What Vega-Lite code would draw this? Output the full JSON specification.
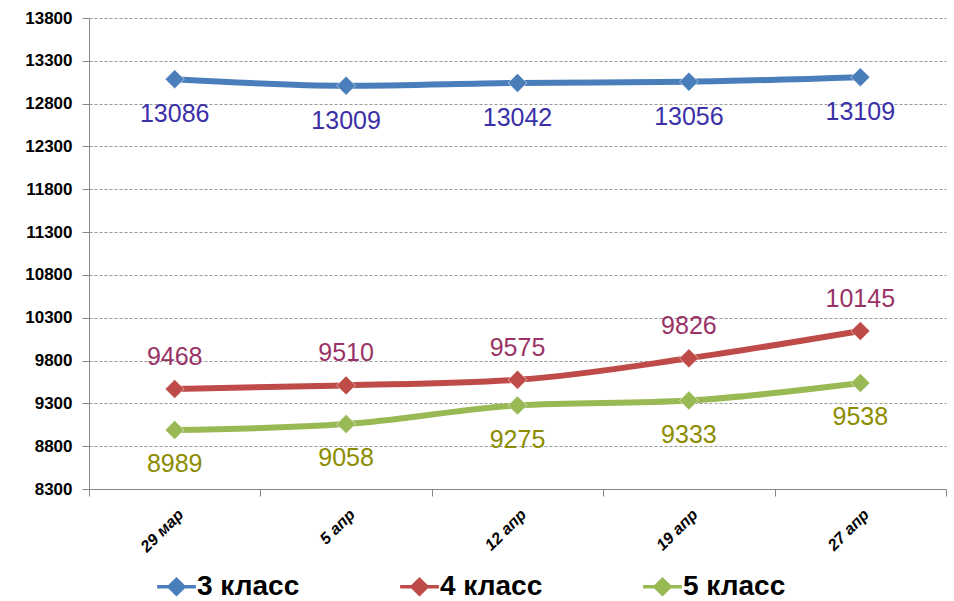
{
  "$schema": "https://vega.github.io/schema/vega-lite/v6.json",
  "width": 857,
  "height": 471,
  "autosize": {"type": "none"},
  "padding": {"left": 89, "top": 18, "right": 8, "bottom": 112},
  "background": "white",
  "config": {
    "view": {"stroke": null},
    "font": "Liberation Sans"
  },
  "datasets": {
    "prices": [
      {"date": "29 мар", "series": "3 класс", "price": 13086},
      {"date": "5 апр", "series": "3 класс", "price": 13009},
      {"date": "12 апр", "series": "3 класс", "price": 13042},
      {"date": "19 апр", "series": "3 класс", "price": 13056},
      {"date": "27 апр", "series": "3 класс", "price": 13109},
      {"date": "29 мар", "series": "4 класс", "price": 9468},
      {"date": "5 апр", "series": "4 класс", "price": 9510},
      {"date": "12 апр", "series": "4 класс", "price": 9575},
      {"date": "19 апр", "series": "4 класс", "price": 9826},
      {"date": "27 апр", "series": "4 класс", "price": 10145},
      {"date": "29 мар", "series": "5 класс", "price": 8989},
      {"date": "5 апр", "series": "5 класс", "price": 9058},
      {"date": "12 апр", "series": "5 класс", "price": 9275},
      {"date": "19 апр", "series": "5 класс", "price": 9333},
      {"date": "27 апр", "series": "5 класс", "price": 9538}
    ]
  },
  "layer": [
    {
      "data": {"name": "prices"},
      "mark": {"type": "line", "strokeWidth": 6, "interpolate": "monotone"},
      "encoding": {
        "x": {
          "field": "date", "type": "nominal",
          "sort": ["29 мар", "5 апр", "12 апр", "19 апр", "27 апр"],
          "scale": {"paddingInner": 0, "paddingOuter": 0},
          "axis": {
            "title": null, "labelAngle": -45, "labelFontSize": 16, "labelFontWeight": "bold",
            "labelFontStyle": "italic", "labelColor": "#000000",
            "tickBand": "extent", "tickColor": "#888888", "tickSize": 7,
            "domainColor": "#888888", "grid": false, "labelPadding": 10
          }
        },
        "y": {
          "field": "price", "type": "quantitative",
          "scale": {"domain": [8300, 13800], "nice": false, "zero": false},
          "axis": {
            "title": null, "values": [8300, 8800, 9300, 9800, 10300, 10800, 11300, 11800, 12300, 12800, 13300, 13800],
            "format": "d",
            "labelFontSize": 17, "labelFontWeight": "bold", "labelColor": "#000000",
            "tickColor": "#888888", "tickSize": 7, "labelPadding": 10,
            "domainColor": "#888888",
            "grid": true, "gridColor": "#999999", "gridDash": [3, 2], "gridWidth": 1
          }
        },
        "color": {
          "field": "series", "type": "nominal",
          "scale": {"domain": ["3 класс", "4 класс", "5 класс"], "range": ["#4a7ebb", "#be4b48", "#98b954"]},
          "legend": {
            "title": null, "orient": "none", "legendX": 68, "legendY": 549,
            "direction": "horizontal", "labelFontSize": 28, "labelFontWeight": "bold",
            "labelColor": "#000000", "columnPadding": 100, "labelOffset": 1,
            "symbolType": "M-1,-0.09L-0.42,-0.09L0,-0.5L0.42,-0.09L1,-0.09L1,0.09L0.42,0.09L0,0.5L-0.42,0.09L-1,0.09Z",
            "symbolSize": 1500, "symbolStrokeWidth": 0, "symbolOpacity": 1
          }
        }
      }
    },
    {
      "data": {"name": "prices"},
      "mark": {"type": "point", "shape": "diamond", "filled": true, "size": 360, "opacity": 1, "stroke": "#ffffff", "strokeWidth": 0.5},
      "encoding": {
        "x": {"field": "date", "type": "nominal", "sort": ["29 мар", "5 апр", "12 апр", "19 апр", "27 апр"]},
        "y": {"field": "price", "type": "quantitative"},
        "color": {"field": "series", "type": "nominal"}
      }
    },
    {
      "data": {"name": "prices"},
      "transform": [{"filter": "datum.series === '3 класс'"}],
      "mark": {"type": "text", "fontSize": 25, "dy": 35, "baseline": "middle"},
      "encoding": {
        "x": {"field": "date", "type": "nominal", "sort": ["29 мар", "5 апр", "12 апр", "19 апр", "27 апр"]},
        "y": {"field": "price", "type": "quantitative"},
        "text": {"field": "price", "type": "quantitative", "format": "d"},
        "fill": {"field": "series", "type": "nominal", "scale": {"domain": ["3 класс", "4 класс", "5 класс"], "range": ["#3b30a8", "#993366", "#8c8c00"]}, "legend": null}
      }
    },
    {
      "data": {"name": "prices"},
      "transform": [{"filter": "datum.series === '4 класс'"}],
      "mark": {"type": "text", "fontSize": 25, "dy": -32, "baseline": "middle"},
      "encoding": {
        "x": {"field": "date", "type": "nominal", "sort": ["29 мар", "5 апр", "12 апр", "19 апр", "27 апр"]},
        "y": {"field": "price", "type": "quantitative"},
        "text": {"field": "price", "type": "quantitative", "format": "d"},
        "fill": {"field": "series", "type": "nominal", "legend": null}
      }
    },
    {
      "data": {"name": "prices"},
      "transform": [{"filter": "datum.series === '5 класс'"}],
      "mark": {"type": "text", "fontSize": 25, "dy": 34, "baseline": "middle"},
      "encoding": {
        "x": {"field": "date", "type": "nominal", "sort": ["29 мар", "5 апр", "12 апр", "19 апр", "27 апр"]},
        "y": {"field": "price", "type": "quantitative"},
        "text": {"field": "price", "type": "quantitative", "format": "d"},
        "fill": {"field": "series", "type": "nominal", "legend": null}
      }
    }
  ]
}
